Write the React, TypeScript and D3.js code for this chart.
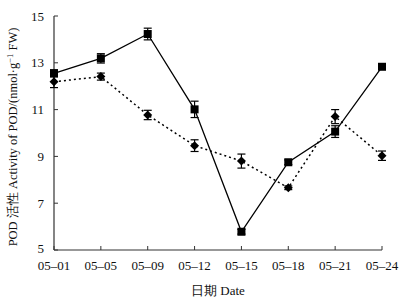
import React from "react";
import * as d3 from "d3";

const dates = ["05-01", "05-05", "05-09", "05-12", "05-15", "05-18", "05-21", "05-24"];
const solidValues = [12.55, 13.19, 14.23, 11.01, 5.78, 8.75, 10.06, 12.83];
const solidErrors = [0.15, 0.2, 0.25, 0.35, 0.1, 0.1, 0.25, 0.08];
const dottedValues = [12.19, 12.41, 10.77, 9.46, 8.8, 7.66, 10.7, 9.03];
const dottedErrors = [0.25, 0.15, 0.2, 0.25, 0.3, 0.08, 0.3, 0.2];
const yTicks = [5, 7, 9, 11, 13, 15];

const W = 409;
const H = 304;
const M = { left: 54, top: 16, right: 27, bottom: 54 };

export default function App() {
  const x = d3
    .scalePoint<string>()
    .domain(dates)
    .range([M.left, W - M.right]);
  const y = d3.scaleLinear().domain([5, 15]).range([H - M.bottom, M.top]);
  const line = d3
    .line<number>()
    .x((_, i) => x(dates[i]) as number)
    .y((d) => y(d));
  const font = "'Liberation Serif', 'Times New Roman', serif";
  const cap = 4;

  const errBars = (vals: number[], errs: number[], key: string) =>
    vals.map((v, i) => {
      const cx = x(dates[i]) as number;
      const y1 = y(v + errs[i]);
      const y2 = y(v - errs[i]);
      return (
        <g key={key + i} stroke="#000" strokeWidth={1.2}>
          <line x1={cx} x2={cx} y1={y1} y2={y2} />
          <line x1={cx - cap} x2={cx + cap} y1={y1} y2={y1} />
          <line x1={cx - cap} x2={cx + cap} y1={y2} y2={y2} />
        </g>
      );
    });

  return (
    <svg
      width={W}
      height={H}
      style={{ position: "absolute", left: 0, top: 0, background: "#fff" }}
      fontFamily={font}
    >
      <rect width={W} height={H} fill="#fff" />
      {/* axes */}
      <line x1={M.left} x2={M.left} y1={M.top} y2={H - M.bottom} stroke="#333" strokeWidth={1.2} />
      <line x1={M.left} x2={W - M.right} y1={H - M.bottom} y2={H - M.bottom} stroke="#333" strokeWidth={1.2} />
      {yTicks.map((t) => (
        <g key={"yt" + t}>
          <line x1={M.left} x2={M.left + 4} y1={y(t)} y2={y(t)} stroke="#333" />
          <text x={M.left - 10} y={y(t) + (t === 5 ? 3 : 4.5)} fontSize={13} textAnchor="end" fill="#111">
            {t}
          </text>
        </g>
      ))}
      {dates.map((d) => (
        <g key={"xt" + d}>
          <line
            x1={x(d) as number}
            x2={x(d) as number}
            y1={H - M.bottom}
            y2={H - M.bottom - 4}
            stroke="#333"
          />
          <text x={x(d) as number} y={H - M.bottom + 20} fontSize={13} textAnchor="middle" fill="#111">
            {d.replace("-", "–")}
          </text>
        </g>
      ))}
      <text x={218} y={295} fontSize={13} textAnchor="middle" fill="#111">
        日期  Date
      </text>
      <text
        transform={`translate(17, 137) rotate(-90)`}
        fontSize={12.5}
        textAnchor="middle"
        fill="#111"
      >
        POD 活性 Activity of POD/(nmol·g
        <tspan dy={-4} fontSize={8.5}>−1</tspan>
        <tspan dy={4}> FW)</tspan>
      </text>
      {/* dotted series */}
      <path d={line(dottedValues) || ""} fill="none" stroke="#000" strokeWidth={1.5} strokeDasharray="2,3" />
      {/* solid series */}
      <path d={line(solidValues) || ""} fill="none" stroke="#000" strokeWidth={1.3} />
      {errBars(dottedValues, dottedErrors, "de")}
      {errBars(solidValues, solidErrors, "se")}
      {dottedValues.map((v, i) => {
        const cx = x(dates[i]) as number;
        const cy = y(v);
        const s = 4.5;
        return (
          <path
            key={"dm" + i}
            d={`M${cx},${cy - s}L${cx + s},${cy}L${cx},${cy + s}L${cx - s},${cy}Z`}
            fill="#000"
          />
        );
      })}
      {solidValues.map((v, i) => {
        const cx = x(dates[i]) as number;
        const cy = y(v);
        return <rect key={"sq" + i} x={cx - 4} y={cy - 4} width={8} height={8} fill="#000" />;
      })}
    </svg>
  );
}
